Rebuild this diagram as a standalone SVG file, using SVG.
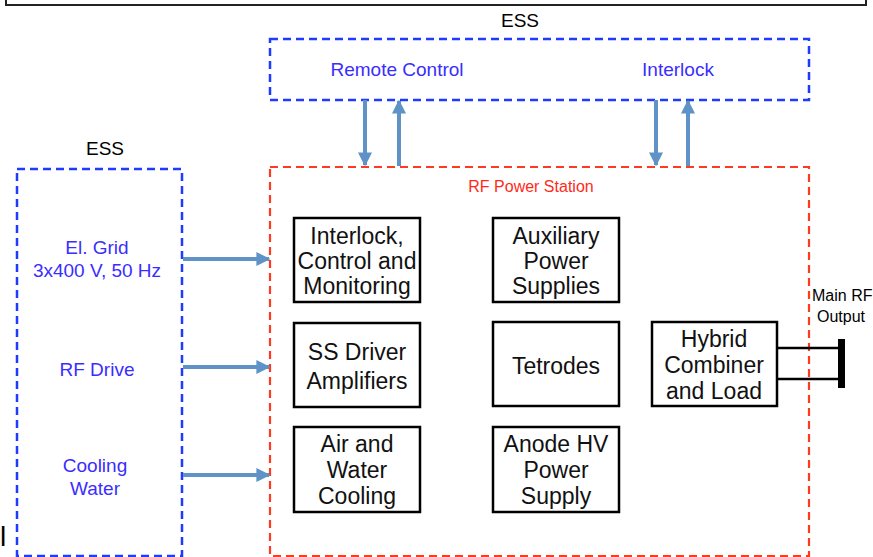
<svg xmlns="http://www.w3.org/2000/svg" width="873" height="557" viewBox="0 0 873 557">
<style>
.ess{fill:none;stroke:#1f3bff;stroke-width:2.5;stroke-dasharray:8 5}
.rf{fill:none;stroke:#ff3b1f;stroke-width:2.2;stroke-dasharray:8 5}
.blk{fill:#fff;stroke:#000;stroke-width:2.5}
.arr{stroke:#5f93c8;stroke-width:4;fill:none}
.bt{font-family:"Liberation Sans",Arial,sans-serif;font-size:19px;fill:#3a2dff;text-anchor:middle}
.nt{font-family:"Liberation Sans",Arial,sans-serif;font-size:23px;fill:#111;text-anchor:middle}
.ht{font-family:"Liberation Sans",Arial,sans-serif;font-size:19px;fill:#000;text-anchor:middle}
</style>
<defs>
<marker id="ah" viewBox="0 0 10 10" refX="9" refY="5" markerWidth="3.5" markerHeight="3.5" orient="auto" markerUnits="strokeWidth">
<path d="M0,0 L10,5 L0,10 Z" fill="#5f93c8"/>
</marker>
</defs>
<rect width="873" height="557" fill="#fff"/>
<polyline points="6,0 6,5 866,5 866,0" fill="none" stroke="#222" stroke-width="2"/>
<text class="ht" x="520" y="27">ESS</text>
<text class="ht" x="105" y="155">ESS</text>
<text x="0" y="546" font-family="Liberation Sans,Arial,sans-serif" font-size="28" fill="#000">l</text>

<g id="ess-top">
<rect class="ess" x="270" y="39" width="539" height="61"/>
<text class="bt" x="397" y="76">Remote Control</text>
<text class="bt" x="678" y="76">Interlock</text>
</g>
<g id="ess-left">
<rect class="ess" x="17" y="169" width="165" height="387"/>
<text class="bt" x="97" y="254">El. Grid</text>
<text class="bt" x="97" y="277">3x400 V, 50 Hz</text>
<text class="bt" x="97" y="376">RF Drive</text>
<text class="bt" x="95" y="472">Cooling</text>
<text class="bt" x="95" y="495">Water</text>
</g>
<g id="rf-station">
<rect class="rf" x="270" y="167" width="539" height="389"/>
<text x="531" y="192" font-family="Liberation Sans,Arial,sans-serif" font-size="16" fill="#ff2a1a" text-anchor="middle">RF Power Station</text>
</g>
<g id="interlock-control">
<rect class="blk" x="294" y="218" width="126" height="84"/>
<text class="nt" x="357" y="244">Interlock,</text>
<text class="nt" x="357" y="269">Control and</text>
<text class="nt" x="357" y="294">Monitoring</text>
</g>
<g id="aux-power">
<rect class="blk" x="493" y="218" width="126" height="84"/>
<text class="nt" x="556" y="244">Auxiliary</text>
<text class="nt" x="556" y="269">Power</text>
<text class="nt" x="556" y="294">Supplies</text>
</g>
<g id="ss-driver">
<rect class="blk" x="294" y="323" width="126" height="84"/>
<text class="nt" x="357" y="360">SS Driver</text>
<text class="nt" x="357" y="389">Amplifiers</text>
</g>
<g id="tetrodes">
<rect class="blk" x="493" y="322" width="126" height="84"/>
<text class="nt" x="556" y="374">Tetrodes</text>
</g>
<g id="air-water">
<rect class="blk" x="294" y="427" width="126" height="85"/>
<text class="nt" x="357" y="452">Air and</text>
<text class="nt" x="357" y="478">Water</text>
<text class="nt" x="357" y="504">Cooling</text>
</g>
<g id="anode-hv">
<rect class="blk" x="493" y="427" width="126" height="85"/>
<text class="nt" x="556" y="452">Anode HV</text>
<text class="nt" x="556" y="478">Power</text>
<text class="nt" x="556" y="504">Supply</text>
</g>
<g id="hybrid">
<rect class="blk" x="652" y="322" width="125" height="84"/>
<text class="nt" x="714" y="347">Hybrid</text>
<text class="nt" x="714" y="373">Combiner</text>
<text class="nt" x="714" y="399">and Load</text>
</g>
<g id="main-rf-output">
<rect x="838" y="339" width="7" height="49" fill="#000"/>
<text font-family="Liberation Sans,Arial,sans-serif" font-size="16" fill="#000" x="812" y="301">Main RF</text>
<text font-family="Liberation Sans,Arial,sans-serif" font-size="16" fill="#000" x="817" y="322">Output</text>
</g>
<g id="connectors">
<line class="arr" x1="365" y1="100" x2="365" y2="165" marker-end="url(#ah)"/>
<line class="arr" x1="399" y1="166" x2="399" y2="101" marker-end="url(#ah)"/>
<line class="arr" x1="656" y1="100" x2="656" y2="165" marker-end="url(#ah)"/>
<line class="arr" x1="688" y1="166" x2="688" y2="101" marker-end="url(#ah)"/>
<line class="arr" x1="183" y1="259" x2="269" y2="259" marker-end="url(#ah)"/>
<line class="arr" x1="183" y1="367" x2="269" y2="367" marker-end="url(#ah)"/>
<line class="arr" x1="183" y1="475" x2="269" y2="475" marker-end="url(#ah)"/>
<line x1="777" y1="348" x2="840" y2="348" stroke="#000" stroke-width="2.5"/>
<line x1="777" y1="379" x2="840" y2="379" stroke="#000" stroke-width="2.5"/>
</g>
</svg>
